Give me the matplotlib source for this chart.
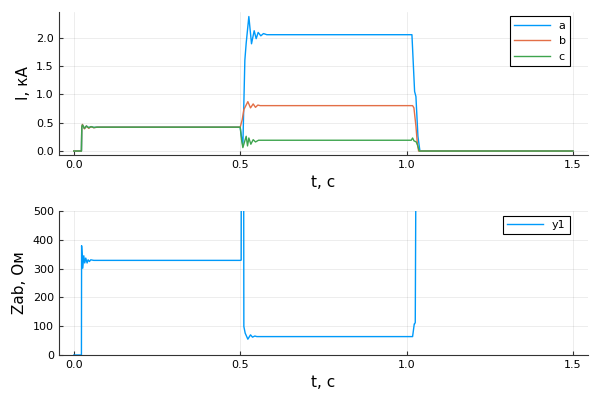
import numpy as np
import matplotlib
matplotlib.use('Agg')
import matplotlib.pyplot as plt

# currents, kA
t_a = [0, 0.023, 0.024, 0.026, 0.032, 0.038, 0.045, 0.052, 0.060, 0.070, 0.5, 0.504,
       0.508, 0.514, 0.518, 0.526, 0.534, 0.542, 0.548, 0.554, 0.562, 0.570, 0.58,
       1.016, 1.024, 1.028, 1.034, 1.040, 1.5]
i_a = [0, 0, 0.42, 0.46, 0.40, 0.44, 0.41, 0.43, 0.415, 0.42, 0.42, 0.25,
       0.09, 1.6, 1.9, 2.37, 1.89, 2.12, 1.98, 2.09, 2.03, 2.07, 2.05,
       2.05, 1.05, 0.96, 0.26, 0.0, 0.0]

t_b = [0, 0.023, 0.024, 0.026, 0.032, 0.038, 0.045, 0.052, 0.060, 0.070, 0.5, 0.506,
       0.511, 0.523, 0.531, 0.539, 0.546, 0.553, 0.56, 1.018, 1.022, 1.028, 1.032,
       1.036, 1.5]
i_b = [0, 0, 0.42, 0.47, 0.39, 0.44, 0.40, 0.43, 0.41, 0.42, 0.42, 0.55,
       0.73, 0.87, 0.76, 0.83, 0.77, 0.81, 0.80, 0.80, 0.76, 0.44, 0.15,
       0.0, 0.0]

t_c = [0, 0.023, 0.024, 0.026, 0.032, 0.038, 0.045, 0.052, 0.060, 0.070, 0.5, 0.504,
       0.508, 0.518, 0.522, 0.526, 0.532, 0.539, 0.546, 0.555, 1.014, 1.018, 1.022,
       1.029, 1.033, 1.038, 1.5]
i_c = [0, 0, 0.42, 0.46, 0.40, 0.44, 0.41, 0.43, 0.415, 0.42, 0.42, 0.20,
       0.06, 0.26, 0.09, 0.23, 0.12, 0.20, 0.16, 0.19, 0.19, 0.23, 0.18,
       0.16, 0.10, 0.0, 0.0]

# impedance, Ohm
t_z = [0, 0.023, 0.0235, 0.027, 0.030, 0.033, 0.036, 0.040, 0.043, 0.047, 0.051, 0.06,
       0.5, 0.503, 0.505, 0.509, 0.511, 0.515, 0.523, 0.531, 0.537, 0.544, 0.55,
       1.018, 1.023, 1.024, 1.026, 1.033]
z_ab = [0, 0, 380, 302, 345, 320, 337, 320, 331, 325, 331, 329,
        329, 330, 2000, 2000, 99, 76, 55, 70, 62, 66, 64,
        64, 108, 108, 113, 2000]

blue = '#009AFA'
red = '#E36F47'
green = '#3EA44E'

fig = plt.figure(figsize=(6, 4), dpi=100)
ax1 = fig.add_axes([0.098, 0.6125, 0.882, 0.3575])
ax2 = fig.add_axes([0.098, 0.1125, 0.882, 0.3595])

ax1.plot(t_a, i_a, color=blue, lw=1, label='a')
ax1.plot(t_b, i_b, color=red, lw=1, label='b')
ax1.plot(t_c, i_c, color=green, lw=1, label='c')
ax1.set_xlim(-0.045, 1.545)
ax1.set_ylim(-0.07, 2.45)
ax1.set_yticks([0, 0.5, 1.0, 1.5, 2.0])
ax1.set_ylabel('I, кА', fontsize=11)
ax1.set_xlabel('t, c', fontsize=11)

ax2.plot(t_z, z_ab, color=blue, lw=1, label='y1')
ax2.set_xlim(-0.045, 1.545)
ax2.set_ylim(0, 500)
ax2.set_yticks([0, 100, 200, 300, 400, 500])
ax2.set_ylabel('Zab, Ом', fontsize=11)
ax2.set_xlabel('t, c', fontsize=11)

for ax in (ax1, ax2):
    ax.set_xticks([0, 0.5, 1.0, 1.5])
    ax.xaxis.set_major_formatter(matplotlib.ticker.FormatStrFormatter('%.1f'))
    ax.spines['top'].set_visible(False)
    ax.spines['right'].set_visible(False)
    ax.spines['left'].set_color('#333333')
    ax.spines['bottom'].set_color('#333333')
    ax.grid(True, color='black', alpha=0.1, lw=0.5)
    ax.tick_params(direction='in', length=3, labelsize=8, colors='#333333',
                   labelcolor='black')
    leg = ax.legend(loc='upper right', bbox_to_anchor=(0.966, 0.97), fontsize=8,
                    fancybox=False, framealpha=1, edgecolor='black',
                    handlelength=3.2, borderaxespad=0)
    leg.get_frame().set_linewidth(0.8)

ax2.set_yticklabels(['0', '100', '200', '300', '400', '500'])

plt.savefig('out.png', dpi=100)
